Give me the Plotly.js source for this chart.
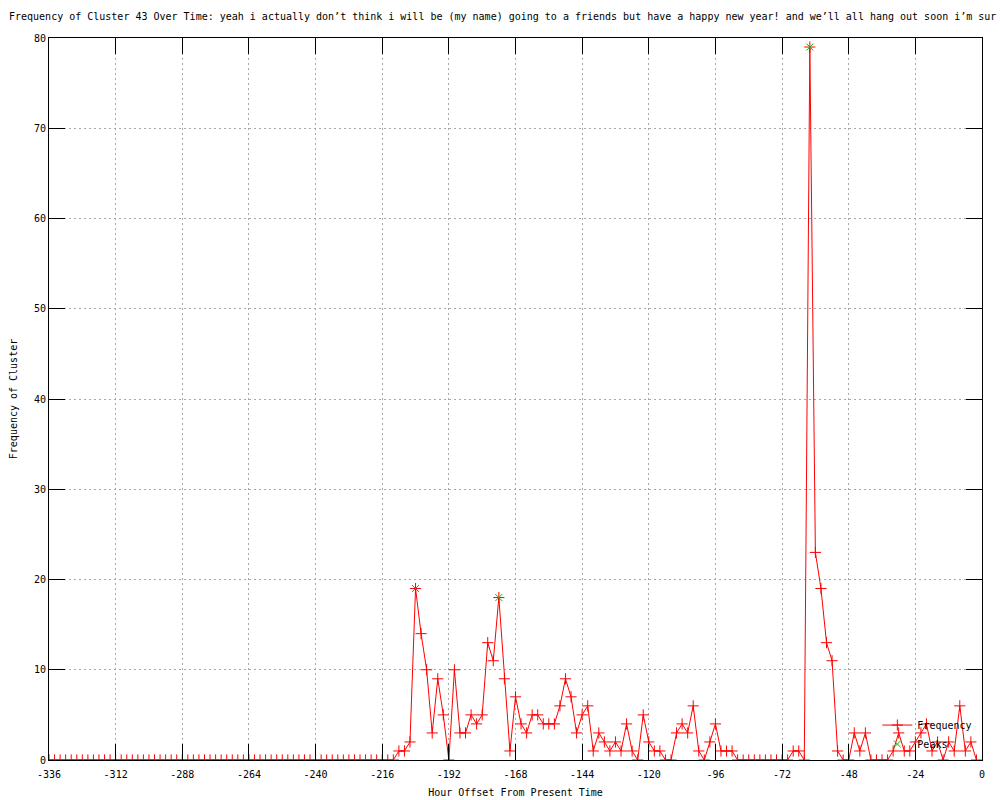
<!DOCTYPE html>
<html>
<head>
<meta charset="utf-8">
<script src="https://cdn.plot.ly/plotly-3.0.1.min.js"></script>
<style>
  html, body { margin: 0; padding: 0; background: #ffffff; }
  #chart { width: 1000px; height: 800px; }
</style>
</head>
<body>
<div id="chart"></div>
<script>
// Hour offsets (x) and cluster frequency (y)
const hours = [
  -336,-334,-332,-330,-328,-326,-324,-322,-320,-318,-316,-314,
  -312,-310,-308,-306,-304,-302,-300,-298,-296,-294,-292,-290,
  -288,-286,-284,-282,-280,-278,-276,-274,-272,-270,-268,-266,
  -264,-262,-260,-258,-256,-254,-252,-250,-248,-246,-244,-242,
  -240,-238,-236,-234,-232,-230,-228,-226,-224,-222,-220,-218,
  -216,-214,-212,-210,-208,-206,-204,-202,-200,-198,-196,-194,
  -192,-190,-188,-186,-184,-182,-180,-178,-176,-174,-172,-170,
  -168,-166,-164,-162,-160,-158,-156,-154,-152,-150,-148,-146,
  -144,-142,-140,-138,-136,-134,-132,-130,-128,-126,-124,-122,
  -120,-118,-116,-114,-112,-110,-108,-106,-104,-102,-100,-98,
  -96,-94,-92,-90,-88,-86,-84,-82,-80,-78,-76,-74,
  -72,-70,-68,-66,-64,-62,-60,-58,-56,-54,-52,-50,
  -48,-46,-44,-42,-40,-38,-36,-34,-32,-30,-28,-26,
  -24,-22,-20,-18,-16,-14,-12,-10,-8,-6,-4,-2
];
const frequency = [
  0,0,0,0,0,0,0,0,0,0,0,0,
  0,0,0,0,0,0,0,0,0,0,0,0,
  0,0,0,0,0,0,0,0,0,0,0,0,
  0,0,0,0,0,0,0,0,0,0,0,0,
  0,0,0,0,0,0,0,0,0,0,0,0,
  0,0,0,1,1,2,19,14,10,3,9,5,
  0,10,3,3,5,4,5,13,11,18,9,1,
  7,4,3,5,5,4,4,4,6,9,7,3,
  5,6,1,3,2,1,2,1,4,1,0,5,
  2,1,1,0,0,3,4,3,6,1,0,2,
  4,1,1,1,0,0,0,0,0,0,0,0,
  0,0,1,1,0,79,23,19,13,11,1,0,
  0,3,1,3,0,0,0,0,1,3,1,1,
  2,3,4,1,2,0,2,1,6,1,2,0
];
const peakHours = [-204, -174, -62];
const peakValues = [19, 18, 79];

const xTickVals = [-336,-312,-288,-264,-240,-216,-192,-168,-144,-120,-96,-72,-48,-24,0];
const xTickText = ["-336","-312","-288","-264","-240","-216","-192","-168","-144","-120","-96","-72","-48","-24","0"];
const yTickVals = [0,10,20,30,40,50,60,70,80];
const yTickText = ["0","10","20","30","40","50","60","70","80"];

const titleText = "Frequency of Cluster 43 Over Time: yeah i actually don\u2019t think i will be (my name) going to a friends but have a happy new year! and we\u2019ll all hang out soon i\u2019m sur";

const FONT = "DejaVu Sans Mono, Liberation Mono, monospace";

const traces = [
  {
    type: "scatter",
    mode: "lines+markers",
    name: "Frequency",
    x: hours,
    y: frequency,
    line: { color: "#ff0000", width: 1 },
    marker: { symbol: "cross-thin-open", size: 8, color: "#ff0000", line: { color: "#ff0000", width: 1 } },
    legendrank: 1
  },
  {
    type: "scatter",
    mode: "markers",
    name: "Peaks",
    x: peakHours,
    y: peakValues,
    marker: { symbol: "x-thin-open", size: 7, color: "#00c000", line: { color: "#00c000", width: 1 } },
    legendrank: 2
  }
];

const axisCommon = {
  showline: true,
  linecolor: "#000000",
  linewidth: 1,
  mirror: "ticks",
  ticks: "inside",
  ticklen: 16,
  tickwidth: 1,
  tickcolor: "#000000",
  showgrid: true,
  gridcolor: "#a8a8a8",
  gridwidth: 1,
  griddash: "2px,3px",
  zeroline: false,
  tickfont: { family: FONT, size: 10, color: "#000000" },
  fixedrange: true
};

const layout = {
  width: 1000,
  height: 800,
  paper_bgcolor: "#ffffff",
  plot_bgcolor: "#ffffff",
  margin: { l: 49, r: 18, t: 38, b: 40 },
  font: { family: FONT, size: 10, color: "#000000" },
  title: {
    text: titleText,
    font: { family: FONT, size: 10, color: "#000000" },
    xref: "container", yref: "container",
    x: 0.009, xanchor: "left",
    y: 0.979, yanchor: "middle"
  },
  xaxis: Object.assign({}, axisCommon, {
    range: [-336, 0],
    tickmode: "array",
    tickvals: xTickVals,
    ticktext: xTickText,
    ticklabelstandoff: 5,
    title: { text: "Hour Offset From Present Time", font: { family: FONT, size: 10, color: "#000000" }, standoff: 9 }
  }),
  yaxis: Object.assign({}, axisCommon, {
    range: [0, 80],
    tickmode: "array",
    tickvals: yTickVals,
    ticktext: yTickText,
    title: { text: "Frequency of Cluster", font: { family: FONT, size: 10, color: "#000000" }, standoff: 14 }
  }),
  showlegend: true,
  legend: {
    x: 0.995, xanchor: "right",
    y: 0.002, yanchor: "bottom",
    bgcolor: "rgba(0,0,0,0)",
    borderwidth: 0,
    font: { family: FONT, size: 10, color: "#000000" },
    tracegroupgap: 0
  }
};

Plotly.newPlot("chart", traces, layout, { displayModeBar: false, staticPlot: true });
</script>
</body>
</html>
